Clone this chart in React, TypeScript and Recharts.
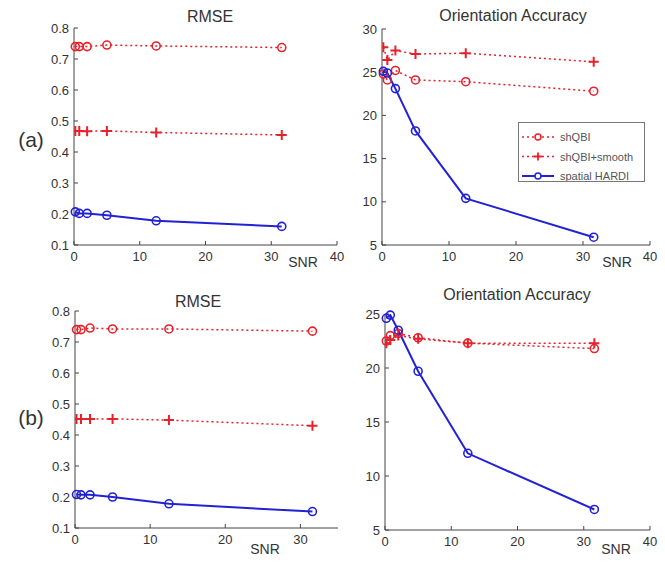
import { Line, LineChart, XAxis, YAxis } from "recharts";

const SNR = [0.2, 0.8, 2, 5, 12.5, 31.6];

// (a) RMSE
const rmseA_shqbi = [0.74, 0.74, 0.74, 0.745, 0.742, 0.737];
const rmseA_smooth = [0.468, 0.468, 0.467, 0.468, 0.463, 0.455];
const rmseA_hardi = [0.207, 0.202, 0.202, 0.196, 0.178, 0.16];
// (a) Orientation Accuracy
const oaA_shqbi = [24.8, 24.1, 25.2, 24.1, 23.9, 22.8];
const oaA_smooth = [27.9, 26.4, 27.5, 27.1, 27.2, 26.2];
const oaA_hardi = [25.1, 24.9, 23.1, 18.2, 10.4, 5.9];
// (b) RMSE
const rmseB_shqbi = [0.74, 0.74, 0.745, 0.742, 0.742, 0.735];
const rmseB_smooth = [0.452, 0.452, 0.452, 0.452, 0.448, 0.43];
const rmseB_hardi = [0.208, 0.207, 0.207, 0.2, 0.178, 0.153];
// (b) Orientation Accuracy
const oaB_shqbi = [22.5, 23.0, 23.2, 22.8, 22.3, 21.8];
const oaB_smooth = [22.3, 22.6, 23.0, 22.7, 22.3, 22.3];
const oaB_hardi = [24.6, 24.9, 23.5, 19.7, 12.1, 6.9];

const rmseTicks = [0.1, 0.2, 0.3, 0.4, 0.5, 0.6, 0.7, 0.8];
const oaTicksA = [5, 10, 15, 20, 25, 30];
const oaTicksB = [5, 10, 15, 20, 25];
const snrTicks = [0, 10, 20, 30, 40];
const snrTicksB = [0, 10, 20, 30];

const RED = "#e8202a";
const BLUE = "#2222d4";
const FONT = "'Liberation Sans', Arial, sans-serif";

const SERIES = [
  { key: "shqbi", name: "shQBI", color: RED, dash: "2 3", width: 1.5, marker: "circle" },
  { key: "smooth", name: "shQBI+smooth", color: RED, dash: "2 3", width: 1.5, marker: "plus" },
  { key: "hardi", name: "spatial HARDI", color: BLUE, dash: undefined, width: 2, marker: "circle" },
];

const rows = (a: number[], b: number[], c: number[]) =>
  SNR.map((snr, i) => ({ snr, shqbi: a[i], smooth: b[i], hardi: c[i] }));

const PlusDot = (props: any) => {
  const { cx, cy, stroke, index } = props;
  if (cx == null || cy == null) return <g key={`p${index}`} />;
  return (
    <path
      key={`p${index}`}
      d={`M${cx - 5},${cy}H${cx + 5}M${cx},${cy - 5}V${cy + 5}`}
      stroke={stroke}
      strokeWidth={2}
      fill="none"
    />
  );
};

function Panel(props: any) {
  const { data, x, y, w, h, xDomain, xTicks, yDomain, yTicks } = props;
  const L = 50;
  const T = 10;
  const R = 12;
  const B = 30;
  const tick = { fill: "#333", fontSize: 13, fontFamily: FONT };
  return (
    <div style={{ position: "absolute", left: x - L, top: y - T }}>
      <LineChart
        width={w + L + R}
        height={h + T + B}
        data={data}
        margin={{ top: T, right: R, bottom: 0, left: 0 }}
      >
        <XAxis
          type="number"
          dataKey="snr"
          domain={xDomain}
          ticks={xTicks}
          height={B}
          tickSize={-4}
          tickMargin={11}
          tick={tick}
          stroke="#444"
          allowDataOverflow
        />
        <YAxis
          type="number"
          domain={yDomain}
          ticks={yTicks}
          width={L}
          tickSize={-4}
          tickMargin={9}
          tick={tick}
          stroke="#444"
          allowDataOverflow
        />
        {SERIES.map((s) => (
          <Line
            key={s.key}
            type="linear"
            dataKey={s.key}
            stroke={s.color}
            strokeWidth={s.width}
            strokeDasharray={s.dash}
            isAnimationActive={false}
            dot={
              s.marker === "plus"
                ? PlusDot
                : {
                    r: 4,
                    fill: "none",
                    stroke: s.color,
                    strokeWidth: 1.6,
                    strokeDasharray: "none",
                    clipDot: false,
                  }
            }
            activeDot={false}
          />
        ))}
      </LineChart>
    </div>
  );
}

function Label({ x, y, size, children }: any) {
  return (
    <div
      style={{
        position: "absolute",
        left: x,
        top: y,
        transform: "translate(-50%, -50%)",
        fontSize: size,
        color: "#333",
        whiteSpace: "nowrap",
        fontFamily: FONT,
      }}
    >
      {children}
    </div>
  );
}

function LegendBox() {
  return (
    <div
      style={{
        position: "absolute",
        left: 518,
        top: 122,
        width: 127,
        height: 60,
        border: "1px solid #777",
        background: "#fff",
        boxSizing: "border-box",
      }}
    >
      <svg width={125} height={58}>
        {SERIES.map((s, i) => {
          const cy = 14 + i * 19.5;
          return (
            <g key={s.key}>
              <line x1={3} x2={35} y1={cy} y2={cy} stroke={s.color} strokeWidth={s.width} strokeDasharray={s.dash} />
              {s.marker === "plus" ? (
                <path d={`M${19 - 4},${cy}H${19 + 4}M19,${cy - 4}V${cy + 4}`} stroke={s.color} strokeWidth={1.8} />
              ) : (
                <circle cx={19} cy={cy} r={3} fill="#fff" stroke={s.color} strokeWidth={1.5} />
              )}
              <text x={41} y={cy + 4} fontSize={11} fill="#555" fontFamily={FONT}>
                {s.name}
              </text>
            </g>
          );
        })}
      </svg>
    </div>
  );
}

export default function App() {
  return (
    <div
      style={{
        position: "absolute",
        left: 0,
        top: 0,
        width: 665,
        height: 563,
        background: "#fff",
        overflow: "hidden",
        fontFamily: FONT,
      }}
    >
      <Panel
        data={rows(rmseA_shqbi, rmseA_smooth, rmseA_hardi)}
        x={74} y={28} w={263} h={217}
        xDomain={[0, 40]} xTicks={snrTicks}
        yDomain={[0.1, 0.8]} yTicks={rmseTicks}
      />
      <Panel
        data={rows(oaA_shqbi, oaA_smooth, oaA_hardi)}
        x={382} y={29} w={268} h={216}
        xDomain={[0, 40]} xTicks={snrTicks}
        yDomain={[5, 30]} yTicks={oaTicksA}
      />
      <Panel
        data={rows(rmseB_shqbi, rmseB_smooth, rmseB_hardi)}
        x={75} y={311} w={263} h={217}
        xDomain={[0, 35]} xTicks={snrTicksB}
        yDomain={[0.1, 0.8]} yTicks={rmseTicks}
      />
      <Panel
        data={rows(oaB_shqbi, oaB_smooth, oaB_hardi)}
        x={385} y={314} w={265} h={216}
        xDomain={[0, 40]} xTicks={snrTicks}
        yDomain={[5, 25]} yTicks={oaTicksB}
      />

      <Label x={210} y={17} size={16}>RMSE</Label>
      <Label x={513} y={16} size={16}>Orientation Accuracy</Label>
      <Label x={198} y={302} size={16}>RMSE</Label>
      <Label x={517} y={295} size={16}>Orientation Accuracy</Label>

      <Label x={303} y={262} size={14}>SNR</Label>
      <Label x={617} y={262} size={14}>SNR</Label>
      <Label x={265} y={549} size={14}>SNR</Label>
      <Label x={616} y={549} size={14}>SNR</Label>

      <Label x={31} y={140} size={21}>(a)</Label>
      <Label x={31} y={418} size={21}>(b)</Label>

      <LegendBox />
    </div>
  );
}
